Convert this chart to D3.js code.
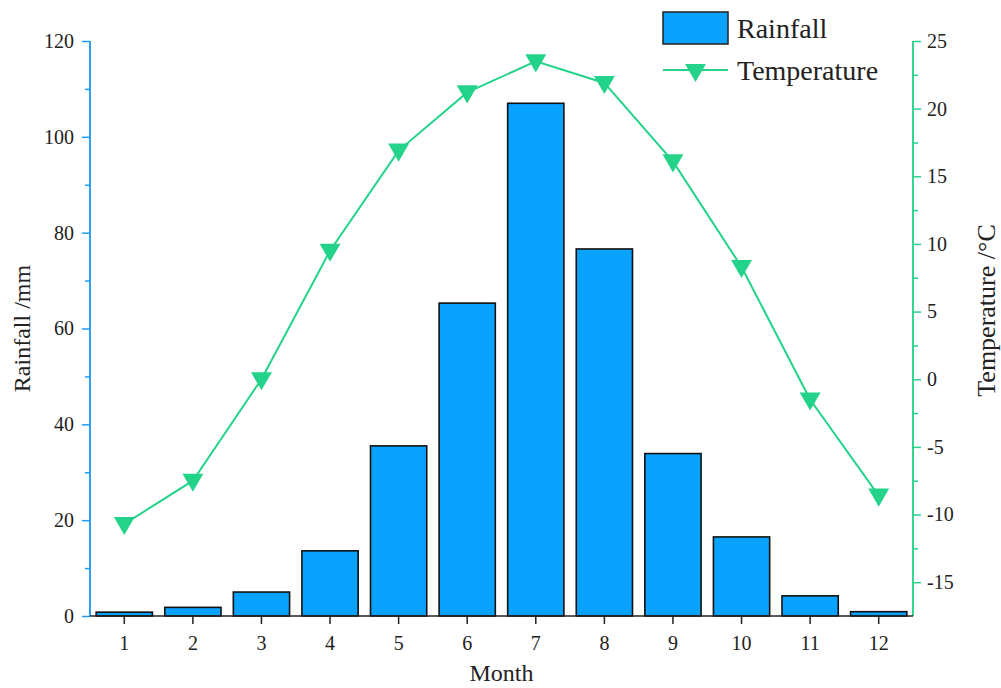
<!DOCTYPE html>
<html>
<head>
<meta charset="utf-8">
<script src="https://cdn.jsdelivr.net/npm/d3@7"></script>
<style>
body { margin: 0; background: #fff; }
text { font-family: "Liberation Serif", "Times New Roman", serif; fill: #222; }
</style>
</head>
<body>
<div id="chart"></div>
<script>
// data
let months = [1, 2, 3, 4, 5, 6, 7, 8, 9, 10, 11, 12];
let rainfall = [0.8, 1.8, 5.0, 13.6, 35.5, 65.3, 107.0, 76.6, 33.9, 16.5, 4.2, 0.9];
let temperature = [-10.7, -7.5, 0.0, 9.5, 16.9, 21.2, 23.5, 21.9, 16.1, 8.3, -1.5, -8.6];
let rainTicks = [0, 20, 40, 60, 80, 100, 120];
let tempTicks = [-15, -10, -5, 0, 5, 10, 15, 20, 25];

let W = 1001, H = 688;
let L = 90, R = 913, T = 41, B = 616;
let blue = '#0aa2ff', axisBlue = '#1c9cf6', green = '#24d38a';

let svg = d3.select('#chart').append('svg')
		.attr('width', W)
		.attr('height', H);

let x = d3.scaleBand().domain(months).range([L, R]).paddingInner(0.18).paddingOuter(0.09);
let yL = d3.scaleLinear().domain([0, 120]).range([B, T]);
let yR = d3.scaleLinear().domain([-17.5, 25]).range([B, T]);

// bars
svg.append('g')
		.selectAll('rect')
		.data(months)
		.enter()
		.append('rect')
		.attr('x', d => x(d))
		.attr('width', x.bandwidth())
		.attr('y', (d, i) => yL(rainfall[i]))
		.attr('height', (d, i) => B - yL(rainfall[i]))
		.attr('fill', blue)
		.attr('stroke', '#111')
		.attr('stroke-width', 1.6);

// temperature line
let line = d3.line()
		.x((d, i) => x(months[i]) + x.bandwidth() / 2)
		.y(d => yR(d));
svg.append('path')
		.datum(temperature)
		.attr('d', line)
		.attr('fill', 'none')
		.attr('stroke', green)
		.attr('stroke-width', 2);

let tri = d3.symbol().type(d3.symbolTriangle).size(190);
svg.append('g')
		.selectAll('path')
		.data(temperature)
		.enter()
		.append('path')
		.attr('d', tri)
		.attr('transform', (d, i) => `translate(${x(months[i]) + x.bandwidth() / 2}, ${yR(d) - 1}) rotate(180)`)
		.attr('fill', green);

// left axis
let gL = svg.append('g').attr('transform', `translate(${L}, 0)`);
gL.call(d3.axisLeft(yL).tickValues(rainTicks).tickSize(8).tickPadding(8));
gL.append('g').call(d3.axisLeft(yL).tickValues(d3.range(10, 120, 20)).tickSize(5).tickFormat(''));
gL.selectAll('path, line').attr('stroke', axisBlue).attr('stroke-width', 1.5);
gL.selectAll('.domain').attr('d', `M0,${T}V${B}`);
gL.selectAll('text').style('font-size', '20px').style('font-family', 'Liberation Serif').attr('fill', '#222');

// right axis (plain hyphen for negatives, like the figure)
let gR = svg.append('g').attr('transform', `translate(${R}, 0)`);
gR.call(d3.axisRight(yR).tickValues(tempTicks).tickSize(8).tickPadding(6).tickFormat(d => String(d)));
gR.append('g').call(d3.axisRight(yR).tickValues(d3.range(-12.5, 25, 5)).tickSize(5).tickFormat(''));
gR.selectAll('path, line').attr('stroke', green).attr('stroke-width', 1.5);
gR.selectAll('.domain').attr('d', `M0,${T}V${B}`);
gR.selectAll('text').style('font-size', '20px').style('font-family', 'Liberation Serif').attr('fill', '#222');

// bottom axis
let gB = svg.append('g').attr('transform', `translate(0, ${B})`);
gB.call(d3.axisBottom(x).tickSize(8).tickPadding(12));
gB.selectAll('path, line').attr('stroke', '#222').attr('stroke-width', 1.5);
gB.selectAll('.domain').attr('d', `M${L},0H${R}`);
gB.selectAll('text').style('font-size', '20px').style('font-family', 'Liberation Serif').attr('fill', '#222');

// axis titles
svg.append('text')
		.attr('transform', `translate(30, ${(T + B) / 2}) rotate(-90)`)
		.attr('text-anchor', 'middle')
		.style('font-size', '24px')
		.text('Rainfall /mm');
svg.append('text')
		.attr('transform', `translate(995, ${(T + B) / 2 - 18}) rotate(-90)`)
		.attr('text-anchor', 'middle')
		.style('font-size', '26px')
		.text('Temperature /°C');
svg.append('text')
		.attr('x', (L + R) / 2)
		.attr('y', 681)
		.attr('text-anchor', 'middle')
		.style('font-size', '24px')
		.text('Month');

// legend
let lg = svg.append('g').attr('transform', 'translate(663, 12)');
lg.append('rect')
		.attr('width', 65)
		.attr('height', 32)
		.attr('fill', blue)
		.attr('stroke', '#222')
		.attr('stroke-width', 1.5);
lg.append('text').attr('x', 74).attr('y', 26).style('font-size', '28px').text('Rainfall');
lg.append('line')
		.attr('x1', 0).attr('x2', 65)
		.attr('y1', 58).attr('y2', 58)
		.attr('stroke', green)
		.attr('stroke-width', 2);
lg.append('path')
		.attr('d', tri)
		.attr('transform', 'translate(32.5, 58) rotate(180)')
		.attr('fill', green);
lg.append('text').attr('x', 74).attr('y', 68).style('font-size', '28px').text('Temperature');
</script>
</body>
</html>
